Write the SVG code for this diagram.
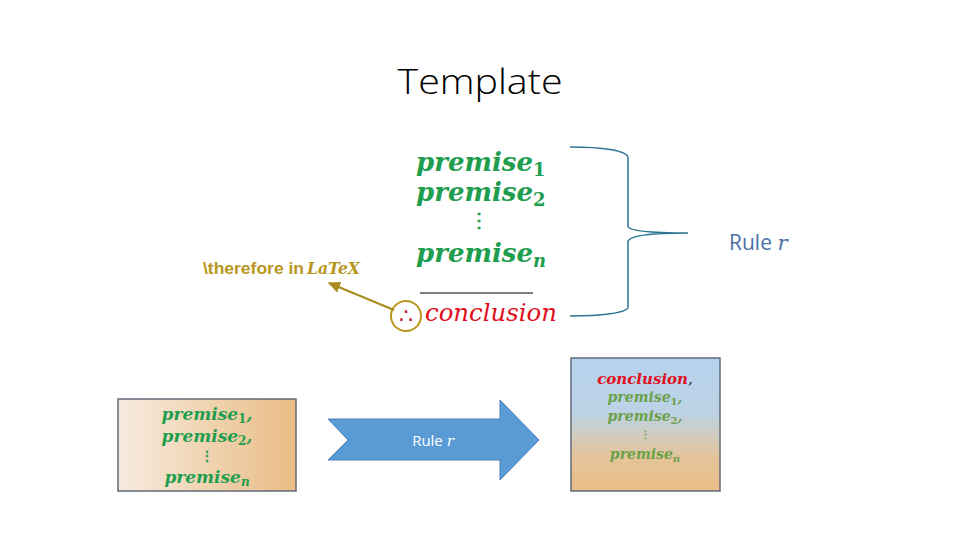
<svg xmlns="http://www.w3.org/2000/svg" width="960" height="540" viewBox="0 0 960 540">
<style>
.title{font-family:"Open Sans","Liberation Sans",Arial,sans-serif;font-weight:300;font-size:35px;fill:#000}
.pm{font-family:"DejaVu Serif","Liberation Serif",serif;font-weight:bold;font-style:italic;fill:#1e9e4e}
.pr{font-family:"DejaVu Serif","Liberation Serif",serif;font-weight:bold;font-style:italic;fill:#6aa048}
.sub{font-style:normal}
.vd{font-style:normal}
.cc{font-family:"DejaVu Serif","Liberation Serif",serif;font-style:italic;fill:#e01020}
.gold{fill:#b8961e}
</style>
<defs>
<linearGradient id="gL" x1="0" y1="0" x2="1" y2="0">
<stop offset="0" stop-color="#f7ebdf"/><stop offset="1" stop-color="#e9bc84"/>
</linearGradient>
<linearGradient id="gR" x1="0" y1="0" x2="0" y2="1">
<stop offset="0" stop-color="#b6d2ee"/><stop offset="0.4" stop-color="#bcd3e6"/><stop offset="0.75" stop-color="#e4c49a"/><stop offset="1" stop-color="#ebbd86"/>
</linearGradient>
<marker id="ah" viewBox="0 0 10 10" refX="8" refY="5" markerWidth="7" markerHeight="7" orient="auto">
<path d="M0,1 L9,5 L0,9 z" fill="#a88c1c"/>
</marker>
</defs>
<rect width="960" height="540" fill="#fff"/>
<text class="title" x="480" y="94" text-anchor="middle" textLength="165" lengthAdjust="spacingAndGlyphs">Template</text>

<g id="rule">
<text class="pm" x="416" y="171" font-size="26">premise<tspan class="sub" dy="5" font-size="18">1</tspan></text>
<text class="pm" x="416" y="201" font-size="26">premise<tspan class="sub" dy="5" font-size="18">2</tspan></text>
<text class="pm vd" x="479" y="227" font-size="20" text-anchor="middle">⋮</text>
<text class="pm" x="416" y="262" font-size="26">premise<tspan dy="5" font-size="18">n</tspan></text>
<line x1="420" y1="293" x2="533" y2="293" stroke="#000" stroke-width="1.2"/>
<text class="cc" x="425" y="321" font-size="25" textLength="132" lengthAdjust="spacingAndGlyphs">conclusion</text>
<text x="406" y="323" font-family="DejaVu Sans,sans-serif" font-size="21" fill="#c0102a" text-anchor="middle">∴</text>
</g>

<g id="latex-note">
<circle cx="406" cy="316" r="15" fill="none" stroke="#b8961e" stroke-width="2"/>
<text x="203" y="274" font-size="17"><tspan class="gold" font-family="Liberation Sans,Arial,sans-serif" font-weight="bold" textLength="101" lengthAdjust="spacingAndGlyphs">\therefore in</tspan><tspan class="gold" x="307" font-family="DejaVu Serif,serif" font-style="italic" font-weight="bold" textLength="53" lengthAdjust="spacingAndGlyphs">LaTeX</tspan></text>
</g>

<g id="rule-label">
<text x="729" y="250" font-family="Open Sans,Liberation Sans,Arial,sans-serif" font-size="21" fill="#4a6fa5">Rule <tspan font-family="DejaVu Serif,serif" font-style="italic">r</tspan></text>
</g>

<g id="left-box">
<rect x="118" y="399" width="178" height="92" fill="url(#gL)" stroke="#5f6b78" stroke-width="1.5"/>
<text class="pm" x="207" y="420" font-size="17" text-anchor="middle">premise<tspan class="sub" dy="3" font-size="12">1</tspan><tspan dy="-3">,</tspan></text>
<text class="pm" x="207" y="442" font-size="17" text-anchor="middle">premise<tspan class="sub" dy="3" font-size="12">2</tspan><tspan dy="-3">,</tspan></text>
<text class="pm vd" x="207" y="461" font-size="14" text-anchor="middle">⋮</text>
<text class="pm" x="207" y="483" font-size="17" text-anchor="middle">premise<tspan dy="3" font-size="12">n</tspan></text>
</g>

<g id="right-box">
<rect x="571" y="358" width="149" height="133" fill="url(#gR)" stroke="#5f6b78" stroke-width="1.5"/>
<text x="645" y="384" font-size="15" text-anchor="middle" font-family="DejaVu Serif,serif" font-style="italic" font-weight="bold"><tspan fill="#e01020">conclusion</tspan><tspan fill="#222" font-weight="normal">,</tspan></text>
<text class="pr" x="645" y="402" font-size="14" text-anchor="middle">premise<tspan class="sub" dy="3" font-size="10">1</tspan><tspan dy="-3">,</tspan></text>
<text class="pr" x="645" y="421" font-size="14" text-anchor="middle">premise<tspan class="sub" dy="3" font-size="10">2</tspan><tspan dy="-3">,</tspan></text>
<text class="pr vd" x="645" y="439" font-size="11" text-anchor="middle" font-weight="normal">⋮</text>
<text class="pr" x="645" y="459" font-size="14" text-anchor="middle">premise<tspan dy="3" font-size="10">n</tspan></text>
</g>

<g id="connectors">
<path d="M570,147 C600,147 628,150 628,158 L628,226 C628,231 650,233 688,233 C650,233 628,236 628,242 L628,307 C628,313 600,316 570,316" fill="none" stroke="#2e7592" stroke-width="1.5"/>
<line x1="394" y1="310" x2="329" y2="283" stroke="#a88c1c" stroke-width="2" marker-end="url(#ah)"/>
<path d="M328,419 L500,419 L500,400 L539,440 L500,480 L500,460 L328,460 L348,440 Z" fill="#5b9bd5" stroke="#4a80b8" stroke-width="1"/>
<text x="433" y="446" font-family="Open Sans,Liberation Sans,Arial,sans-serif" font-size="15" fill="#fff" text-anchor="middle">Rule <tspan font-family="DejaVu Serif,serif" font-style="italic">r</tspan></text>
</g>
</svg>
